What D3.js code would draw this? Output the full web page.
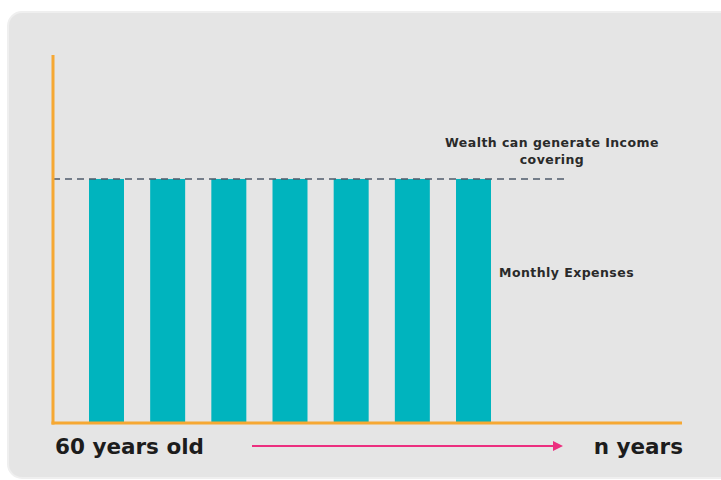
<!DOCTYPE html>
<html>
<head>
<meta charset="utf-8">
<script src="https://cdn.jsdelivr.net/npm/d3@7"></script>
<style>
  html, body { margin: 0; padding: 0; background: #ffffff; }
  svg { display: block; }
</style>
</head>
<body>
<script>
// Years after retirement, each covered by the same income level
const categories = ["y1", "y2", "y3", "y4", "y5", "y6", "y7"];
const incomeValues = [1, 1, 1, 1, 1, 1, 1];
const coverLevel = 1;
const startLabel = "60 years old";
const endLabel = "n years";
const coverLabel = ["Wealth can generate Income", "covering"];
const expenseLabel = "Monthly Expenses";

const W = 721, H = 480;
const svg = d3.select("body").append("svg").attr("width", W).attr("height", H);

// panel background
svg.append("rect")
  .attr("x", 8).attr("y", 12).attr("width", 730).attr("height", 466)
  .attr("rx", 14).attr("ry", 14)
  .attr("fill", "#e5e5e5")
  .attr("stroke", "#efefef").attr("stroke-width", 2);

const axisX = 53, baseY = 423, topY = 55;

const x = d3.scaleBand()
  .domain(categories)
  .range([89, 491])
  .paddingInner(0.428)
  .paddingOuter(0);

const y = d3.scaleLinear()
  .domain([0, 1.508])
  .range([baseY, topY]);

// bars
svg.append("g").selectAll("rect")
  .data(incomeValues)
  .join("rect")
  .attr("x", (d, i) => x(categories[i]))
  .attr("y", d => y(d))
  .attr("width", x.bandwidth())
  .attr("height", d => baseY - y(d))
  .attr("fill", "#00b4be");

// dashed income level
svg.append("line")
  .attr("x1", axisX).attr("x2", 565)
  .attr("y1", y(coverLevel)).attr("y2", y(coverLevel))
  .attr("stroke", "#4f5b6b").attr("stroke-width", 1.5)
  .attr("stroke-dasharray", "7,5");

// axes
svg.append("line")
  .attr("x1", axisX).attr("x2", axisX)
  .attr("y1", topY).attr("y2", baseY + 1.5)
  .attr("stroke", "#f6a833").attr("stroke-width", 3);
svg.append("line")
  .attr("x1", axisX - 1.5).attr("x2", 682)
  .attr("y1", baseY).attr("y2", baseY)
  .attr("stroke", "#f6a833").attr("stroke-width", 3);

// arrow
const defs = svg.append("defs");
defs.append("marker")
  .attr("id", "arrowHead")
  .attr("viewBox", "0 0 10 10")
  .attr("refX", 2).attr("refY", 5)
  .attr("markerWidth", 6).attr("markerHeight", 5)
  .attr("markerUnits", "strokeWidth")
  .attr("orient", "auto")
  .append("path").attr("d", "M0,0 L10,5 L0,10 z").attr("fill", "#ec2f7f");
svg.append("line")
  .attr("x1", 252).attr("x2", 555)
  .attr("y1", 446).attr("y2", 446)
  .attr("stroke", "#ec2f7f").attr("stroke-width", 2)
  .attr("marker-end", "url(#arrowHead)");

// bottom labels
const bigFont = "'DejaVu Sans', 'Noto Sans', sans-serif";
svg.append("text")
  .attr("x", 55).attr("y", 454)
  .attr("font-family", bigFont).attr("font-weight", 700).attr("font-size", 21.5)
  .attr("fill", "#1c1c1c")
  .text(startLabel);
svg.append("text")
  .attr("x", 683).attr("y", 454)
  .attr("text-anchor", "end")
  .attr("font-family", bigFont).attr("font-weight", 700).attr("font-size", 21.5)
  .attr("fill", "#1c1c1c")
  .text(endLabel);

// annotation labels
const smallFont = "'DejaVu Sans', 'Noto Sans', sans-serif";
svg.append("text")
  .attr("x", 552).attr("y", 147)
  .attr("text-anchor", "middle")
  .attr("font-family", smallFont).attr("font-weight", 700).attr("font-size", 12.5)
  .attr("letter-spacing", 0.45)
  .attr("fill", "#2a2a2a")
  .selectAll("tspan").data(coverLabel).join("tspan")
  .attr("x", 552).attr("dy", (d, i) => i === 0 ? 0 : 17)
  .text(d => d);
svg.append("text")
  .attr("x", 499).attr("y", 277)
  .attr("font-family", smallFont).attr("font-weight", 700).attr("font-size", 12.5)
  .attr("letter-spacing", 0.45)
  .attr("fill", "#2a2a2a")
  .text(expenseLabel);
</script>
</body>
</html>
